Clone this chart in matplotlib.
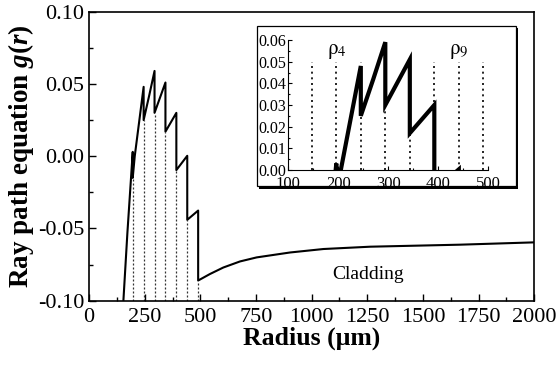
import matplotlib
matplotlib.use("Agg")
import matplotlib.pyplot as plt
import numpy as np
from matplotlib.patches import Rectangle
from matplotlib.ticker import MultipleLocator, FormatStrFormatter

# ── data ────────────────────────────────────────────────────────────────────
r_core = [154, 172, 196, 196, 205, 220, 245, 245, 270, 294, 294, 343, 343,
          392, 392, 441, 441, 490, 490]
g_core = [-0.100, -0.053, 0.003, -0.015, 0.000, 0.018, 0.048, 0.025, 0.042,
          0.059, 0.030, 0.051, 0.017, 0.030, -0.0096, 0.0003, -0.044, -0.0376,
          -0.086]
r_clad = [490, 543, 603, 678, 753, 903, 1053, 1263, 1667, 2000]
g_clad = [-0.086, -0.0815, -0.077, -0.0728, -0.070, -0.0666, -0.0642, -0.0626,
          -0.0612, -0.0596]
rho = [147, 196, 245, 294, 343, 392, 441, 490]   # rho_3 .. rho_10
rho_labels = {4: 196, 9: 441}

plt.rcParams["font.family"] = "Liberation Serif"
plt.rcParams["axes.unicode_minus"] = False
plt.rcParams["mathtext.fontset"] = "custom"
plt.rcParams["mathtext.rm"] = "Liberation Serif:bold"
plt.rcParams["mathtext.it"] = "Liberation Serif:bold:italic"

r_all = np.array(r_core + r_clad[1:])
g_all = np.array(g_core + g_clad[1:])

fig = plt.figure(figsize=(5.57, 3.65), dpi=100)
ax = fig.add_axes([0.160, 0.176, 0.799, 0.792])

ax.plot(r_all, g_all, color="black", linewidth=1.5, zorder=3)

# dotted drop lines at each interface in the main plot
r_arr = np.array(r_core)
g_arr = np.array(g_core)
for p in rho[1:]:
    low = g_arr[r_arr == p].min()
    ax.plot([p, p], [-0.1, low], color="#333333", linewidth=0.9,
            linestyle=(0, (1.6, 1.6)), zorder=2)

ax.set_xlim(0, 2000)
ax.set_ylim(-0.1, 0.1)
ax.xaxis.set_major_locator(MultipleLocator(250))
ax.xaxis.set_minor_locator(MultipleLocator(125))
ax.yaxis.set_major_locator(MultipleLocator(0.05))
ax.yaxis.set_minor_locator(MultipleLocator(0.025))
ax.yaxis.set_major_formatter(FormatStrFormatter("%.2f"))
ax.tick_params(which="both", direction="in", labelsize=16, width=1.0)
ax.tick_params(which="major", length=5)
ax.tick_params(which="minor", length=3)
ax.tick_params(axis="x", pad=5)
for s in ax.spines.values():
    s.set_linewidth(1.2)

ax.set_xlabel("Radius (μm)", fontsize=18.5, fontweight="bold", labelpad=0)
ax.set_ylabel(r"Ray path equation $g(r)$", fontsize=19.5, fontweight="bold",
              labelpad=1, math_fontfamily="custom")
ax.text(1252, -0.082, "Cladding", fontsize=14, ha="center", va="center")

# ── inset frame with drop shadow ────────────────────────────────────────────
fx0, fy0, fw, fh = 0.4614, 0.4904, 0.4646, 0.4384
dx, dy = 2.5 / 557, 2.5 / 365
fig.patches.append(Rectangle((fx0 + dx, fy0 - dy), fw, fh, transform=fig.transFigure,
                             facecolor="black", edgecolor="none", zorder=5))
fig.patches.append(Rectangle((fx0, fy0), fw, fh, transform=fig.transFigure,
                             facecolor="white", edgecolor="black", linewidth=0.9,
                             zorder=6))

ins = fig.add_axes([0.5176, 0.5342, 0.3591, 0.3562], zorder=10)
ins.patch.set_alpha(0)
ins.plot(r_all, g_all, color="black", linewidth=3.0, solid_joinstyle="miter",
         zorder=3)
ins.vlines(rho, 0, 0.05, colors="black", linewidth=1.2,
           linestyles=(0, (1.2, 2.2)), zorder=2)
for n, p in rho_labels.items():
    ins.text(p, 0.0505, r"$\mathrm{\rho}_{%d}$" % n, fontsize=15,
             ha="center", va="bottom", math_fontfamily="stix")
ins.set_xlim(100, 500)
ins.set_ylim(0, 0.06)
ins.spines["top"].set_visible(False)
ins.spines["right"].set_visible(False)
ins.xaxis.set_major_locator(MultipleLocator(100))
ins.xaxis.set_minor_locator(MultipleLocator(50))
ins.yaxis.set_major_locator(MultipleLocator(0.01))
ins.yaxis.set_minor_locator(MultipleLocator(0.005))
ins.yaxis.set_major_formatter(FormatStrFormatter("%.2f"))
ins.tick_params(which="both", direction="in", labelsize=12, width=0.8)
ins.tick_params(axis="y", pad=1.5, labelsize=11.5)
ins.tick_params(axis="x", pad=4.5)
ins.tick_params(which="major", length=3)
ins.tick_params(which="minor", length=1.5)

fig.savefig("out.png", dpi=100)
